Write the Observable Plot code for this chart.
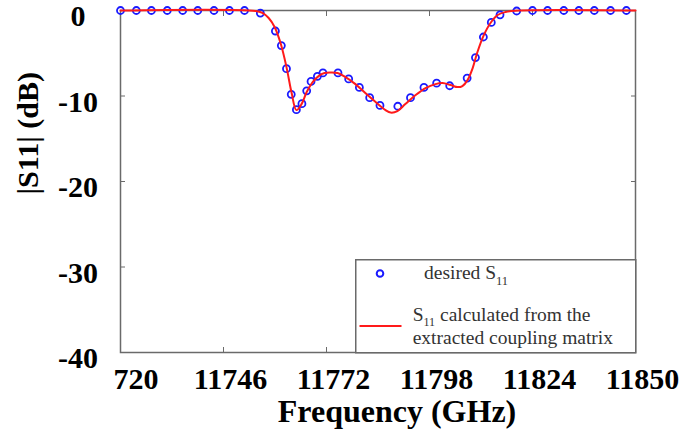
<!DOCTYPE html>
<html>
<head>
<meta charset="utf-8">
<script src="https://cdn.jsdelivr.net/npm/d3@7"></script>
<script src="https://cdn.jsdelivr.net/npm/@observablehq/plot@0.6"></script>
<style>
  html, body { margin: 0; padding: 0; background: #fff; }
  #wrap { position: relative; width: 694px; height: 433px; font-family: "Liberation Serif", "Times New Roman", serif; }
  #legend { position: absolute; left: 355px; top: 259px; }
</style>
</head>
<body>
<div id="wrap">
  <div id="chart"></div>
  <svg id="legend" width="282" height="95" font-family='"Liberation Serif", "Times New Roman", serif' font-size="19.5" fill="#333">
    <rect x="0.75" y="0.75" width="280" height="93" fill="#fff" stroke="#6a6a6a" stroke-width="1.5"></rect>
    <circle cx="25" cy="14.5" r="3.3" fill="none" stroke="#1a1aff" stroke-width="2"></circle>
    <line x1="4.5" x2="46.5" y1="67" y2="67" stroke="#ff1a1a" stroke-width="2"></line>
    <text x="69" y="20">desired S<tspan dy="6" font-size="12.5">11</tspan></text>
    <text x="57.7" y="61.5">S<tspan dy="5" font-size="12">11</tspan><tspan dy="-5"> calculated from the</tspan></text>
    <text x="57.7" y="84.5">extracted coupling matrix</text>
  </svg>
</div>
<script>
// desired S11 samples (GHz, dB)
const freqDesired = [11720, 11724, 11727.8, 11731.8, 11735.7, 11739.5, 11743.6, 11747.5, 11751.3, 11755.3,
  11759.1, 11760.6, 11761.9, 11763.1, 11764.4, 11765.8, 11767.0, 11768.1, 11769.7, 11771.1,
  11774.9, 11777.6, 11780.3, 11782.9, 11785.5, 11790.0, 11793.2, 11796.6, 11799.8, 11803.1,
  11807.5, 11809.6, 11811.6, 11813.6, 11815.8, 11820.0, 11824.0, 11827.8, 11831.9, 11835.7,
  11839.6, 11843.7, 11847.7];
const s11Desired = [0, 0, 0, 0, 0, 0, 0, 0, 0, -0.3,
  -2.4, -4.1, -6.8, -9.8, -11.6, -10.9, -9.4, -8.3, -7.7, -7.3,
  -7.3, -8.0, -9.0, -10.2, -11.1, -11.2, -10.2, -9.0, -8.5, -8.8,
  -7.9, -5.5, -3.1, -1.4, -0.5, -0.06, 0, 0, 0, 0,
  0, 0, 0];

// S11 calculated from the extracted coupling matrix
const freqCalc = [11720, 11754.1, 11755.8, 11757.4, 11758.9, 11760.4, 11761.9, 11763.2, 11764.4, 11765.7,
  11767.0, 11768.5, 11770.0, 11771.5, 11773.0, 11774.8, 11776.8, 11779.3, 11781.8, 11784.4,
  11786.9, 11788.2, 11789.9, 11791.9, 11794.5, 11797.0, 11799.5, 11801.3, 11803.3, 11805.1,
  11806.3, 11807.6, 11808.9, 11810.1, 11811.6, 11813.4, 11815.2, 11817.2, 11819.7, 11850];
const s11Calc = [0, -0.06, -0.29, -0.88, -1.93, -3.81, -6.62, -9.66, -11.65, -10.95,
  -9.54, -8.37, -7.67, -7.32, -7.26, -7.32, -7.79, -8.61, -9.66, -10.71,
  -11.65, -11.94, -11.77, -10.95, -9.89, -9.07, -8.61, -8.49, -8.72, -8.96,
  -8.84, -8.14, -6.73, -4.86, -2.99, -1.46, -0.53, -0.18, -0.02, 0];

const xTicks = [11746, 11772, 11798, 11824, 11850];
const xFirstTick = [11720];
const xFirstLabel = "720";
const yTicks = [0, -10, -20, -30, -40];
const xInnerTicks = [11746, 11772, 11798, 11824];
const yInnerTicks = [-10, -20, -30];
const xTitle = "Frequency (GHz)";
const yTitle = "|S11| (dB)";

const desired = freqDesired.map((f, i) => ({f, s: s11Desired[i]}));
const calc = freqCalc.map((f, i) => ({f, s: s11Calc[i]}));

const font = '"Liberation Serif", "Times New Roman", serif';

const chart = Plot.plot({
  width: 694,
  height: 433,
  marginLeft: 120,
  marginRight: 59,
  marginTop: 10,
  marginBottom: 81,
  style: {fontFamily: font, background: "#fff", color: "#000"},
  x: {domain: [11720, 11850]},
  y: {domain: [-40, 0]},
  marks: [
    Plot.frame({stroke: "#6a6a6a", strokeWidth: 1.5}),
    // inward tick marks on all four sides
    Plot.axisX({anchor: "bottom", ticks: xInnerTicks, tickSize: -5, tickFormat: () => "", label: null, stroke: "#6a6a6a"}),
    Plot.axisX({anchor: "top", ticks: xInnerTicks, tickSize: -5, tickFormat: () => "", label: null, stroke: "#6a6a6a"}),
    Plot.axisY({anchor: "left", ticks: yInnerTicks, tickSize: -5, tickFormat: () => "", label: null, stroke: "#6a6a6a"}),
    Plot.axisY({anchor: "right", ticks: yInnerTicks, tickSize: -5, tickFormat: () => "", label: null, stroke: "#6a6a6a"}),
    // tick labels
    Plot.axisX({anchor: "bottom", ticks: xTicks, tickSize: 0, tickPadding: 15, tickFormat: d => String(d),
      fill: "#000", dx: 7, label: null}),
    Plot.axisX({anchor: "bottom", ticks: xFirstTick, tickSize: 0, tickPadding: 15, tickFormat: () => xFirstLabel,
      fill: "#000", textAnchor: "start", dx: -7, label: null}),
    Plot.axisY({anchor: "left", ticks: yTicks, tickSize: 0, tickPadding: 42.5, tickFormat: d => String(d),
      textAnchor: "middle", dy: 6, fill: "#000", label: null}),
    // axis titles
    Plot.text([xTitle], {text: d => d, frameAnchor: "bottom", dx: 19, dy: 59.5, fontSize: 32, fontWeight: "bold", fill: "#000", lineAnchor: "middle"}),
    Plot.text([yTitle], {text: d => d, frameAnchor: "left", rotate: -90, dx: -92.6, dy: 13, fontSize: 30, fontWeight: "bold", fill: "#000", lineAnchor: "middle"}),
    Plot.dot(desired, {x: "f", y: "s", r: 3.5, stroke: "#1a1aff", strokeWidth: 1.8, fill: "none"}),
    Plot.line(calc, {x: "f", y: "s", stroke: "#ff1a1a", strokeWidth: 2, curve: "catmull-rom"})
  ]
});
document.getElementById("chart").appendChild(chart);
// tick labels: large bold serif
chart.querySelectorAll("g[aria-label$='tick label'] text, g[aria-label='x-axis'] text, g[aria-label='y-axis'] text").forEach(t => {
  t.style.fontSize = "30px";
  t.style.fontWeight = "bold";
  t.style.fontFamily = font;
});
</script>
</body>
</html>
